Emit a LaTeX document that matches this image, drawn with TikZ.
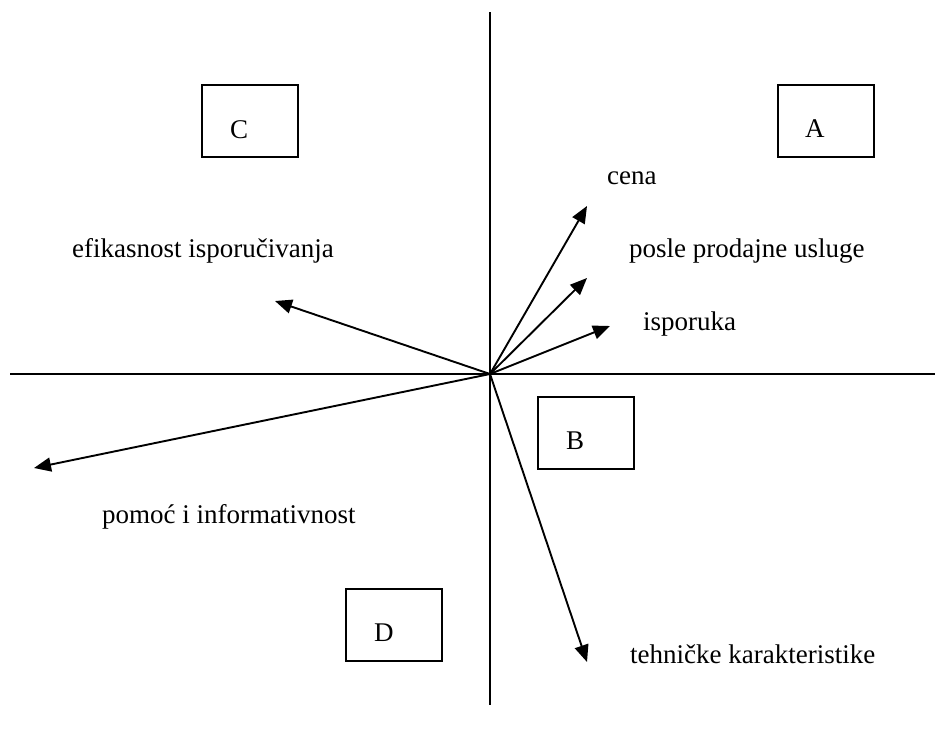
\documentclass[tikz,border=0pt]{standalone}
\usepackage{fontspec}
\setmainfont{Liberation Serif}
\usetikzlibrary{arrows.meta}
\begin{document}
\begin{tikzpicture}[x=1pt,y=-1pt,
  axis/.style={line width=1.9pt},
  vec/.style={line width=1.9pt,-{Triangle[length=17pt,width=14pt]}},
  quad/.style={draw,line width=2pt,minimum width=96pt,minimum height=72pt,inner sep=0pt},
  lbl/.style={font=\fontsize{27}{31}\selectfont,inner sep=0pt,anchor=base west},
  tag/.style={font=\fontsize{27}{31}\selectfont,inner sep=0pt,anchor=base west}]
\useasboundingbox (0,0) rectangle (939,731);
% axes
\coordinate (O) at (490,374);
\coordinate (ytop) at (490,12);
\coordinate (ybot) at (490,705);
\coordinate (xl) at (10,374);
\coordinate (xr) at (935,374);
\draw[axis] (ytop) -- (ybot);
\draw[axis] (xl) -- (xr);
% quadrant boxes
\node[quad] (boxC) at (250,121) {};
\node[quad] (boxA) at (826,121) {};
\node[quad] (boxB) at (586,433) {};
\node[quad] (boxD) at (394,625) {};
\node[tag] (tC) at (230,138) {C};
\node[tag] (tA) at (805,137) {A};
\node[tag] (tB) at (566,449) {B};
\node[tag] (tD) at (374,641) {D};
% attribute vectors
\coordinate (pCena) at (587,206);
\coordinate (pPosle) at (587,278);
\coordinate (pIsp) at (610,326);
\coordinate (pEfik) at (275,301);
\coordinate (pPomoc) at (34,468);
\coordinate (pTeh) at (587,662);
\draw[vec] (O) -- (pCena);
\draw[vec] (O) -- (pPosle);
\draw[vec] (O) -- (pIsp);
\draw[vec] (O) -- (pEfik);
\draw[vec] (O) -- (pPomoc);
\draw[vec] (O) -- (pTeh);
% attribute labels
\node[lbl] (lCena) at (607,184) {cena};
\node[lbl] (lPosle) at (629,257) {posle prodajne usluge};
\node[lbl] (lIsp) at (643,330) {isporuka};
\node[lbl] (lEfik) at (72,257) {efikasnost isporučivanja};
\node[lbl] (lPomoc) at (102,523) {pomoć i informativnost};
\node[lbl] (lTeh) at (630,663) {tehničke karakteristike};
\end{tikzpicture}
\end{document}
